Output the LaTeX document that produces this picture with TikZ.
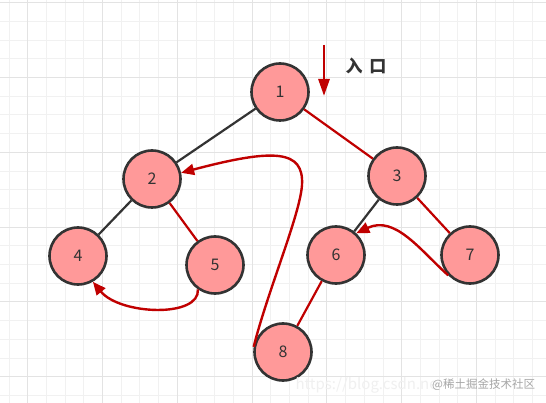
\documentclass[tikz,border=0pt]{standalone}
\usepackage{fontspec}
\setmainfont{Noto Sans CJK SC}
\usetikzlibrary{arrows.meta}
\definecolor{nodefill}{HTML}{FF9999}
\definecolor{nodeline}{HTML}{333333}
\definecolor{pathred}{HTML}{C00000}
\definecolor{gridminor}{HTML}{F1F1F1}
\definecolor{gridmajor}{HTML}{E3E3E3}
\begin{document}
\begin{tikzpicture}[x=1pt,y=-1pt,
    treenode/.style={circle, draw=nodeline, fill=nodefill, line width=2.6pt, minimum size=57pt, inner sep=0pt, font=\fontsize{16}{16}\selectfont, text=nodeline},
    treeedge/.style={line width=2.2pt, draw=nodeline},
    rededge/.style={line width=2.2pt, draw=pathred},
    visit/.style={line width=2.4pt, draw=pathred, -{Triangle[length=13pt,width=11pt]}, pathred}]
    \useasboundingbox (0,0) rectangle (546,403);
    \fill[white] (0,0) rectangle (546,403);
    % grid
    \foreach \k in {0,...,29} \draw[gridminor, line width=0.9pt] (9+18.7*\k,0) -- (9+18.7*\k,403);
    \foreach \k in {0,...,21} \draw[gridminor, line width=0.9pt] (0,2.7+18.7*\k) -- (546,2.7+18.7*\k);
    \foreach \k in {0,...,7} \draw[gridmajor, line width=0.9pt] (27.7+74.8*\k,0) -- (27.7+74.8*\k,403);
    \foreach \k in {0,...,5} \draw[gridmajor, line width=0.9pt] (0,2.7+74.8*\k) -- (546,2.7+74.8*\k);
    % tree
    \node[treenode] (n1) at (280,92) {1};
    \node[treenode] (n2) at (152,179) {2};
    \node[treenode] (n3) at (397,176) {3};
    \node[treenode] (n4) at (78,256) {4};
    \node[treenode] (n5) at (215,265) {5};
    \node[treenode] (n6) at (336,255) {6};
    \node[treenode] (n7) at (470,255) {7};
    \node[treenode] (n8) at (283,352) {8};
    \draw[treeedge] (n1) -- (n2);
    \draw[rededge] (n1) -- (n3);
    \draw[treeedge] (n2) -- (n4);
    \draw[rededge] (n2) -- (n5);
    \draw[treeedge] (n3) -- (n6);
    \draw[rededge] (n3) -- (n7);
    \draw[rededge] (n6) -- (n8);
    % entry
    \coordinate (entrytop) at (324,45);
    \coordinate (entrytip) at (324,96);
    \draw[visit, line width=2.8pt, -{Triangle[length=17pt,width=11pt]}] (entrytop) -- (entrytip);
    \node[font=\fontsize{17}{17}\selectfont\bfseries, text=nodeline] (entry) at (366,66) {入\hspace{7pt}口};
    % traversal curves
    \draw[visit] (n8.170) .. controls (268,290) and (300,215) .. (302,185)
        .. controls (304,150) and (275,148) .. (n2.12);
    \draw[visit] (n5.235) .. controls (200,318) and (120,315) .. (n4.300);
    \draw[visit] (n7.223) .. controls (420,250) and (395,215) .. (n6.47);
    % watermark
    \node[anchor=west, font=\fontsize{15}{15}\selectfont, text=gray!12] (url) at (292,385) {https://blog.csdn.ne};
    \node[anchor=west, font=\fontsize{11.5}{11.5}\selectfont, text=gray!70, inner sep=0pt] (mark) at (432,385) {@稀土掘金技术社区};
\end{tikzpicture}
\end{document}
